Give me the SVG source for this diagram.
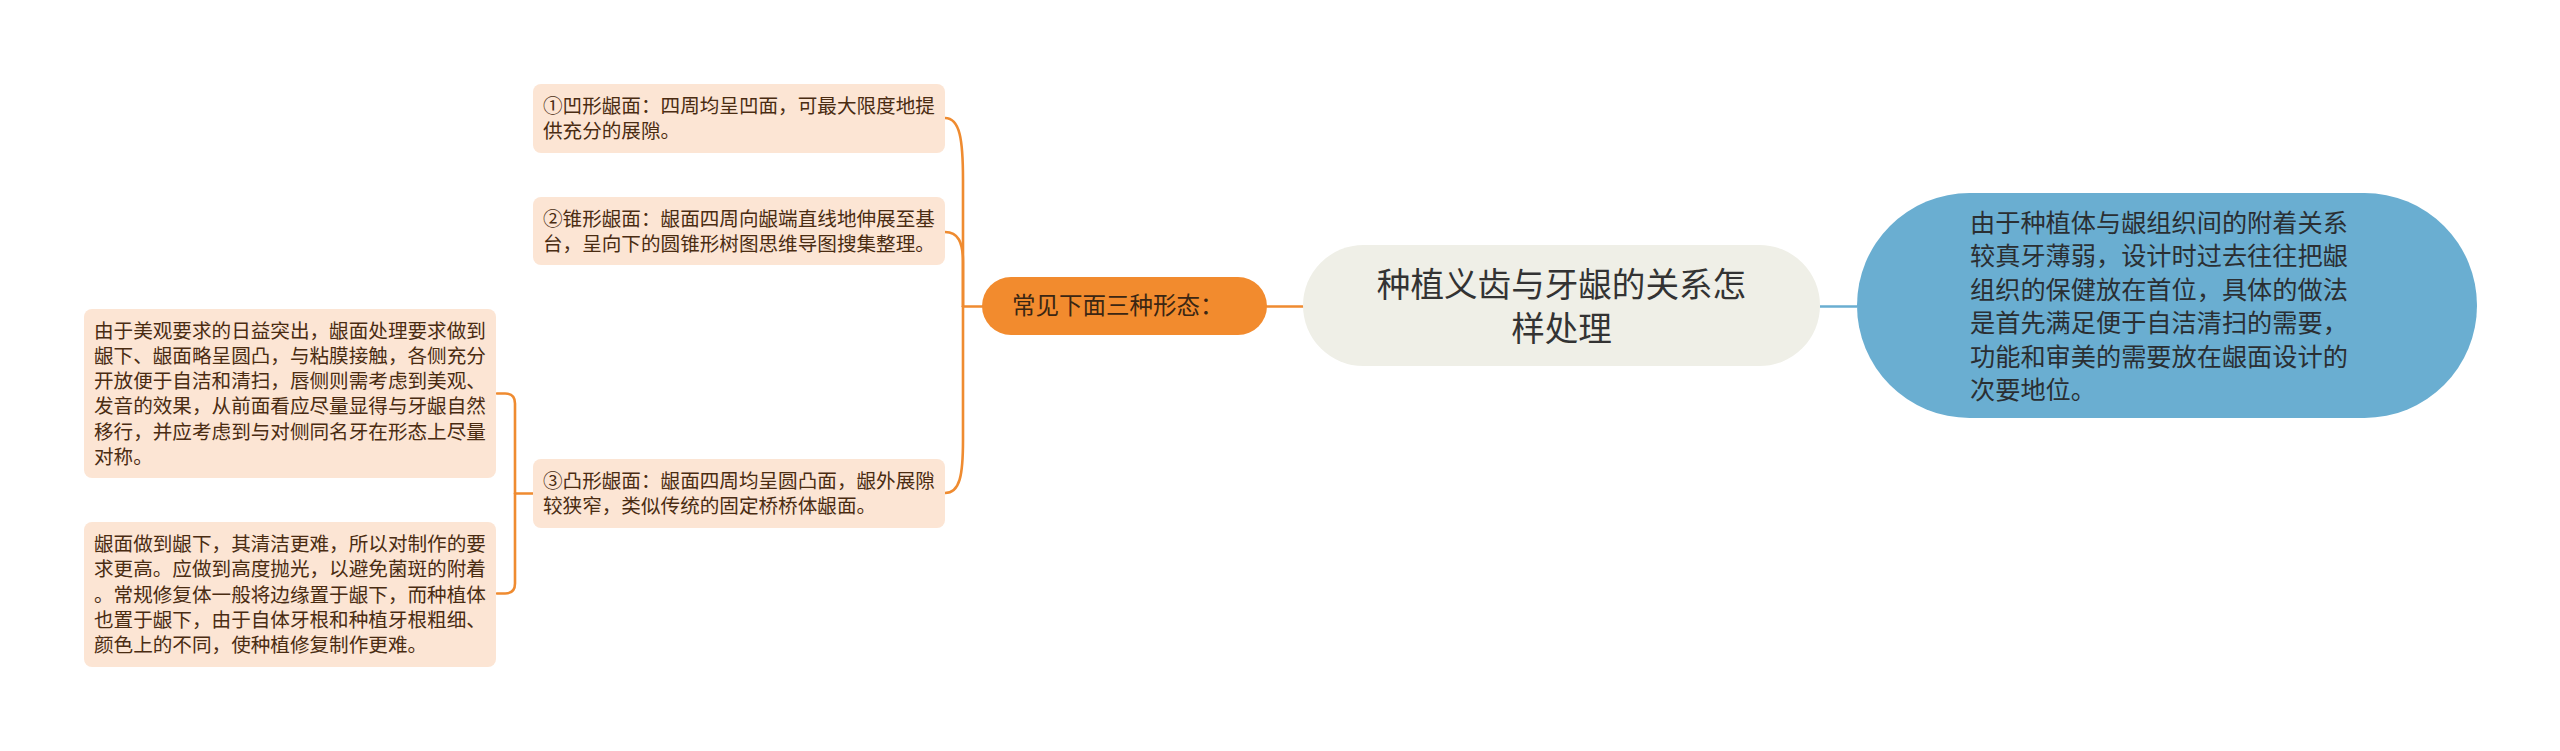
<svg xmlns="http://www.w3.org/2000/svg" width="2560" height="751" viewBox="0 0 2560 751">
<style>
text{font-family:"Noto Sans CJK SC","Noto Sans",sans-serif;}
.box{fill:#fce5d4;}
.bt{font-size:19.6px;fill:#4a2c12;}
.ol{fill:none;stroke:#ef8b30;stroke-width:2.6;stroke-linecap:round;}
.bl{fill:none;stroke:#6aaed1;stroke-width:2.6;}
</style>
<rect width="2560" height="751" fill="#ffffff"/>
<g id="connectors">
<path class="bl" d="M1820,306.5 L1857,306.5"/>
<path class="ol" d="M1267,306.5 L1303,306.5"/>
<path class="ol" d="M982,306.5 L963,306.5"/>
<path class="ol" d="M963,306.5 L963,180 C963,140 960,118 945,118"/>
<path class="ol" d="M963,306.5 L963,262 C963,242 958,232 945,232"/>
<path class="ol" d="M963,306.5 L963,440 C963,475 960,493 945,493"/>
<path class="ol" d="M533,493.5 L515,493.5"/>
<path class="ol" d="M497,393.5 L505,393.5 Q515,393.5 515,403.5 L515,583.5 Q515,593.5 505,593.5 L497,593.5"/>
</g>
<g id="root">
<rect x="1303" y="245" width="517" height="121" rx="60.5" fill="#efefe7"/>
<text x="1561.5" y="297" font-size="33.6" fill="#333333" text-anchor="middle">种植义齿与牙龈的关系怎</text>
<text x="1561.5" y="341" font-size="33.6" fill="#333333" text-anchor="middle">样处理</text>
</g>
<g id="blue-node">
<rect x="1857" y="193" width="620" height="225" rx="112.5" fill="#6aaed1"/>
<g font-size="25.2" fill="#2a2f33">
<text x="1970" y="232">由于种植体与龈组织间的附着关系</text>
<text x="1970" y="265.4">较真牙薄弱，设计时过去往往把龈</text>
<text x="1970" y="298.8">组织的保健放在首位，具体的做法</text>
<text x="1970" y="332.2">是首先满足便于自洁清扫的需要，</text>
<text x="1970" y="365.6">功能和审美的需要放在龈面设计的</text>
<text x="1970" y="399">次要地位。</text>
</g>
</g>
<g id="orange-node">
<rect x="982" y="277" width="285" height="58" rx="29" fill="#f28b2e"/>
<text x="1012" y="314" font-size="23.5" fill="#3b2613">常见下面三种形态：</text>
</g>
<g id="box1">
<rect class="box" x="533" y="84" width="412" height="69" rx="8"/>
<text class="bt" x="543" y="113">①凹形龈面：四周均呈凹面，可最大限度地提</text>
<text class="bt" x="543" y="138">供充分的展隙。</text>
</g>
<g id="box2">
<rect class="box" x="533" y="197" width="412" height="68" rx="8"/>
<text class="bt" x="543" y="226">②锥形龈面：龈面四周向龈端直线地伸展至基</text>
<text class="bt" x="543" y="251">台，呈向下的圆锥形树图思维导图搜集整理。</text>
</g>
<g id="box3">
<rect class="box" x="533" y="459" width="412" height="69" rx="8"/>
<text class="bt" x="543" y="488">③凸形龈面：龈面四周均呈圆凸面，龈外展隙</text>
<text class="bt" x="543" y="513">较狭窄，类似传统的固定桥桥体龈面。</text>
</g>
<g id="boxA">
<rect class="box" x="84" y="309" width="412" height="169" rx="8"/>
<text class="bt" x="94" y="338">由于美观要求的日益突出，龈面处理要求做到</text>
<text class="bt" x="94" y="363">龈下、龈面略呈圆凸，与粘膜接触，各侧充分</text>
<text class="bt" x="94" y="388">开放便于自洁和清扫，唇侧则需考虑到美观、</text>
<text class="bt" x="94" y="413">发音的效果，从前面看应尽量显得与牙龈自然</text>
<text class="bt" x="94" y="438.5">移行，并应考虑到与对侧同名牙在形态上尽量</text>
<text class="bt" x="94" y="463.5">对称。</text>
</g>
<g id="boxB">
<rect class="box" x="84" y="522" width="412" height="145" rx="8"/>
<text class="bt" x="94" y="551">龈面做到龈下，其清洁更难，所以对制作的要</text>
<text class="bt" x="94" y="576">求更高。应做到高度抛光，以避免菌斑的附着</text>
<text class="bt" x="94" y="601.5">。常规修复体一般将边缘置于龈下，而种植体</text>
<text class="bt" x="94" y="626.5">也置于龈下，由于自体牙根和种植牙根粗细、</text>
<text class="bt" x="94" y="652">颜色上的不同，使种植修复制作更难。</text>
</g>
</svg>
